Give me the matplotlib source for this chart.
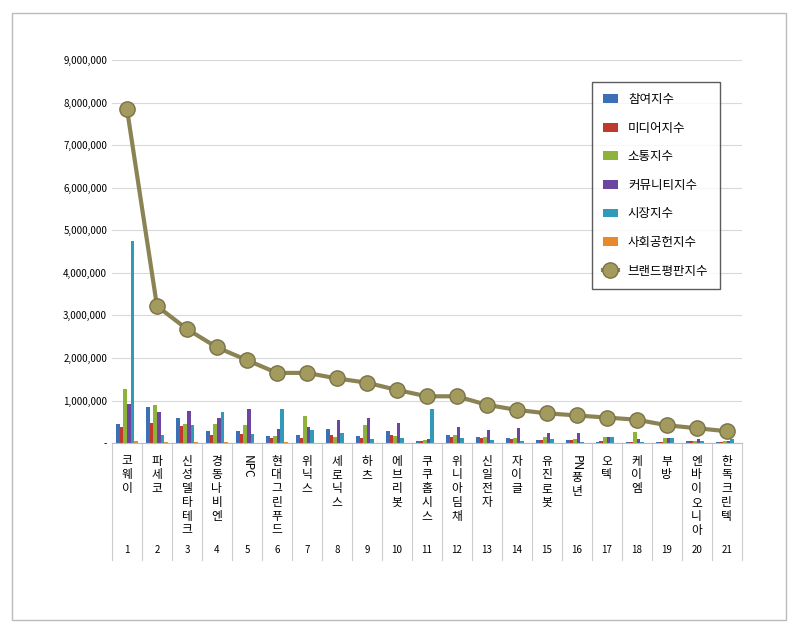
import matplotlib
matplotlib.use("Agg")
import matplotlib.pyplot as plt
from matplotlib.patches import Rectangle
import numpy as np

plt.rcParams["font.family"] = ["Noto Sans CJK KR", "DejaVu Sans"]

names = ["코웨이", "파세코", "신성델타테크", "경동나비엔", "NPC", "현대그린푸드", "위닉스", "세로닉스",
         "하츠", "에브리봇", "쿠쿠홈시스", "위니아딤채", "신일전자", "자이글", "유진로봇", "PN풍년",
         "오텍", "케이엠", "부방", "엔바이오니아", "한독크린텍"]
series_names = ["참여지수", "미디어지수", "소통지수", "커뮤니티지수", "시장지수", "사회공헌지수"]
colors = ["#3b6fb6", "#c0392b", "#8db33a", "#6c45a0", "#2f9bb8", "#e8892b"]
participation = [450000, 850000, 600000, 280000, 280000, 170000, 180000, 330000, 160000, 280000, 50000,
                 200000, 150000, 130000, 80000, 80000, 30000, 30000, 30000, 50000, 20000]
media = [380000, 480000, 400000, 180000, 220000, 130000, 120000, 200000, 130000, 180000, 50000,
         150000, 120000, 100000, 80000, 80000, 50000, 30000, 30000, 50000, 20000]
communication = [1280000, 900000, 450000, 450000, 420000, 170000, 630000, 150000, 420000, 170000, 70000,
                 200000, 150000, 130000, 150000, 100000, 140000, 270000, 110000, 50000, 50000]
community = [930000, 730000, 750000, 580000, 800000, 330000, 370000, 540000, 580000, 480000, 100000,
             380000, 300000, 350000, 240000, 240000, 140000, 100000, 110000, 100000, 50000]
market = [4750000, 200000, 430000, 730000, 220000, 800000, 300000, 240000, 100000, 110000, 800000,
          120000, 80000, 40000, 100000, 30000, 140000, 30000, 110000, 50000, 100000]
social = [50000, 30000, 20000, 20000, 10000, 20000, 10000, 10000, 10000, 10000, 10000,
          10000, 10000, 10000, 10000, 10000, 10000, 10000, 10000, 10000, 10000]
brand = [7850000, 3220000, 2680000, 2250000, 1950000, 1650000, 1650000, 1520000, 1420000, 1250000, 1100000,
         1100000, 900000, 780000, 700000, 650000, 600000, 550000, 420000, 350000, 280000]
all_series = [participation, media, communication, community, market, social]

fig = plt.figure(figsize=(8, 6.33), dpi=100)
fig.patches.append(Rectangle((0.015, 0.02), 0.968, 0.96, transform=fig.transFigure,
                             fill=False, edgecolor="#bbbbbb", lw=1))
ax = fig.add_axes([0.14, 0.30, 0.787, 0.605])
n = len(names)
x = np.arange(n)
w = 0.12
for i, (s, c) in enumerate(zip(all_series, colors)):
    ax.bar(x + (i - 2.5) * w, s, w, color=c, label=series_names[i], zorder=2)
ax.plot(x, brand, color="#8c8354", lw=3, marker="o", ms=11, markerfacecolor="#a39a5e",
        markeredgecolor="#7a7248", label="브랜드평판지수", zorder=3)

ax.set_xlim(-0.5, n - 0.5)
ax.set_ylim(0, 9000000)
ax.set_yticks(np.arange(0, 9000001, 1000000))
ax.set_yticklabels([f"{v:,}" if v else "-" for v in range(0, 9000001, 1000000)], fontsize=7)
ax.yaxis.grid(True, color="#d9d9d9", lw=0.8, zorder=0)
ax.tick_params(axis="y", length=0)
ax.set_xticks([])
for side in ["top", "right", "left"]:
    ax.spines[side].set_visible(False)
ax.spines["bottom"].set_color("#bbbbbb")

# category table below the axis
xt = ax.get_xaxis_transform()
for i in range(n + 1):
    ax.plot([i - 0.5, i - 0.5], [0, -0.305], transform=xt, color="#cccccc", lw=0.8, clip_on=False)
for i, name in enumerate(names):
    yy = -0.03
    if name == "PN풍년":
        pieces = ["PN", "풍", "년"]
    elif name == "NPC":
        pieces = ["NPC"]
    else:
        pieces = list(name)
    for ch in pieces:
        if ch.isascii():
            ax.text(i, yy, ch, rotation=-90, ha="center", va="top", fontsize=8.5, transform=xt)
            yy -= 0.019 * len(ch) + 0.006
        else:
            ax.text(i, yy, ch, ha="center", va="top", fontsize=8.5, transform=xt)
            yy -= 0.036
    ax.text(i, -0.28, str(i + 1), ha="center", va="center", fontsize=7, transform=xt)

handles, labels = ax.get_legend_handles_labels()
handles = handles[1:] + handles[:1]
labels = labels[1:] + labels[:1]
ax.legend(handles, labels, loc="upper right", bbox_to_anchor=(0.975, 0.96), fontsize=9, frameon=True,
          fancybox=False, edgecolor="#333333", labelspacing=1.25, handlelength=1.2, borderpad=0.9)
fig.savefig("out.png", dpi=100)
